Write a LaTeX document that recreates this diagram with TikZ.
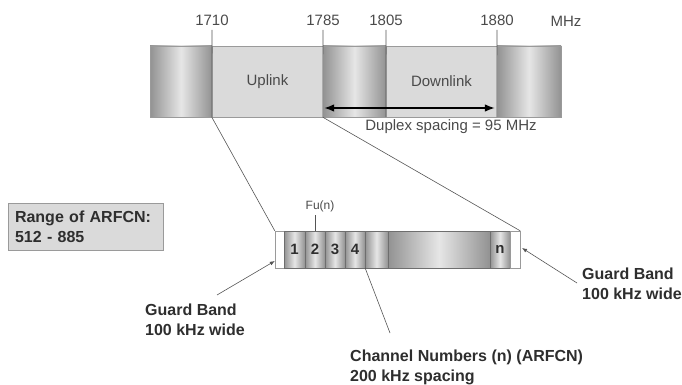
\documentclass[tikz,border=0pt]{standalone}
\usepackage{fontspec}
\setmainfont{Liberation Sans}
\usetikzlibrary{arrows.meta,positioning,calc}
\definecolor{ink}{HTML}{2E2E2E}
\definecolor{inkdim}{HTML}{4A4A4A}
\definecolor{edge}{HTML}{9A9A9A}
\definecolor{slotedge}{HTML}{6E6E6E}
\definecolor{surf}{HTML}{DADADA}
\definecolor{tubedark}{HTML}{929292}
\definecolor{tubelight}{HTML}{E6E6E6}
\definecolor{rule}{HTML}{555555}

\begin{document}
\begin{tikzpicture}[
  x=1pt, y=-1pt,
  font=\fontsize{15}{18}\selectfont, >=Latex,
  seg/.style={draw=edge, fill=surf, inner sep=0pt, minimum height=71, text=inkdim},
  tube/.style={draw=edge, left color=tubedark, right color=tubedark, middle color=tubelight, inner sep=0pt, minimum height=71},
  slot/.style={draw=slotedge, left color=tubedark, right color=tubedark, middle color=tubelight, inner sep=0pt, minimum height=37, minimum width=20, text=ink, font=\bfseries\fontsize{15}{18}\selectfont},
  guard/.style={draw=edge, fill=white, inner sep=0pt, minimum height=37},
  freq/.style={text=inkdim, inner sep=0pt},
  note/.style={text=ink, font=\bfseries\fontsize{16}{20}\selectfont, align=left, inner sep=0pt},
  lead/.style={draw=rule, line width=0.6pt},
]
\useasboundingbox (0,0) rectangle (682,385);
% upper band: 1710 .. 1880 MHz
\node[tube, minimum width=62] (tubeA) at (181,81.5) {};
\node[seg, minimum width=111] (uplink) at (267.5,81.5) {Uplink};
\node[tube, minimum width=63] (tubeB) at (354.5,81.5) {};
\node[seg, minimum width=111] (downlink) at (441.5,81.5) {Downlink};
\node[tube, minimum width=64] (tubeC) at (529,81.5) {};
% frequency marks
\foreach \f/\x in {1710/212, 1785/323, 1805/386, 1880/497}{
  \node[freq] (f\f) at (\x,20) {\f};
  \coordinate (t\f) at (\x,30);
}
\node[freq] (mhz) at (566,21) {MHz};
\draw[lead] (t1710) -- (uplink.south west);
\draw[lead] (t1785) -- (tubeB.south west);
\draw[lead] (t1805) -- (downlink.south west);
\draw[lead] (t1880) -- (tubeC.south west);
% duplex spacing
\coordinate (dupA) at (324,108);
\coordinate (dupB) at (495,108);
\draw[<->, line width=1.6pt, black] (dupA) -- (dupB);
\node[freq] (duplex) at (451,127) {Duplex spacing = 95 MHz};
% range box
\node[note, draw=edge, fill=surf, line width=0.8pt, minimum width=155, minimum height=47, text width=141, inner xsep=7pt] (range) at (85.5,226.5) {Range of ARFCN:\\512 - 885};
% lower band: channel grid
\node[guard, minimum width=9] (gbL) at (279.5,249.5) {};
\node[slot, minimum width=21] (c1) at (294.5,249.5) {1};
\node[slot] (c2) at (315,249.5) {2};
\node[slot] (c3) at (335,249.5) {3};
\node[slot] (c4) at (355,249.5) {4};
\node[slot, minimum width=23] (c5) at (376.5,249.5) {};
\node[slot, minimum width=102] (cmid) at (439,249.5) {};
\node[slot] (cn) at (500,249.5) {n};
\node[guard, minimum width=10] (gbR) at (515,249.5) {};
% zoom lines
\draw[lead] (uplink.south west) -- (gbL.north west);
\draw[lead] (tubeB.south west) -- (gbR.north east);
% carrier mark
\node[freq, font=\fontsize{12}{14}\selectfont] (fu) at (320,206) {Fu(n)};
\coordinate (fuTick) at (315,215);
\draw[lead] (fuTick) -- (c2.north);
% guard band notes
\node[note, anchor=north west] (gnL) at (145,304) {Guard Band\\100 kHz wide};
\coordinate (gnLtail) at (217,295);
\draw[lead, -{Latex[length=5pt,width=4pt]}] (gnLtail) -- (gbL.west |- 0,261) coordinate (gnLhead);
\node[note, anchor=north west] (gnR) at (582,268) {Guard Band\\100 kHz wide};
\coordinate (gnRtail) at (577,283);
\draw[lead, -{Latex[length=5pt,width=4pt]}] (gnRtail) -- (522,248) coordinate (gnRhead);
% channel numbering note
\node[note, anchor=north west] (chan) at (350,350) {Channel Numbers (n) (ARFCN)\\200 kHz spacing};
\coordinate (chanTail) at (390,333);
\draw[lead] (c4.south east) -- (chanTail);
\end{tikzpicture}
\end{document}
